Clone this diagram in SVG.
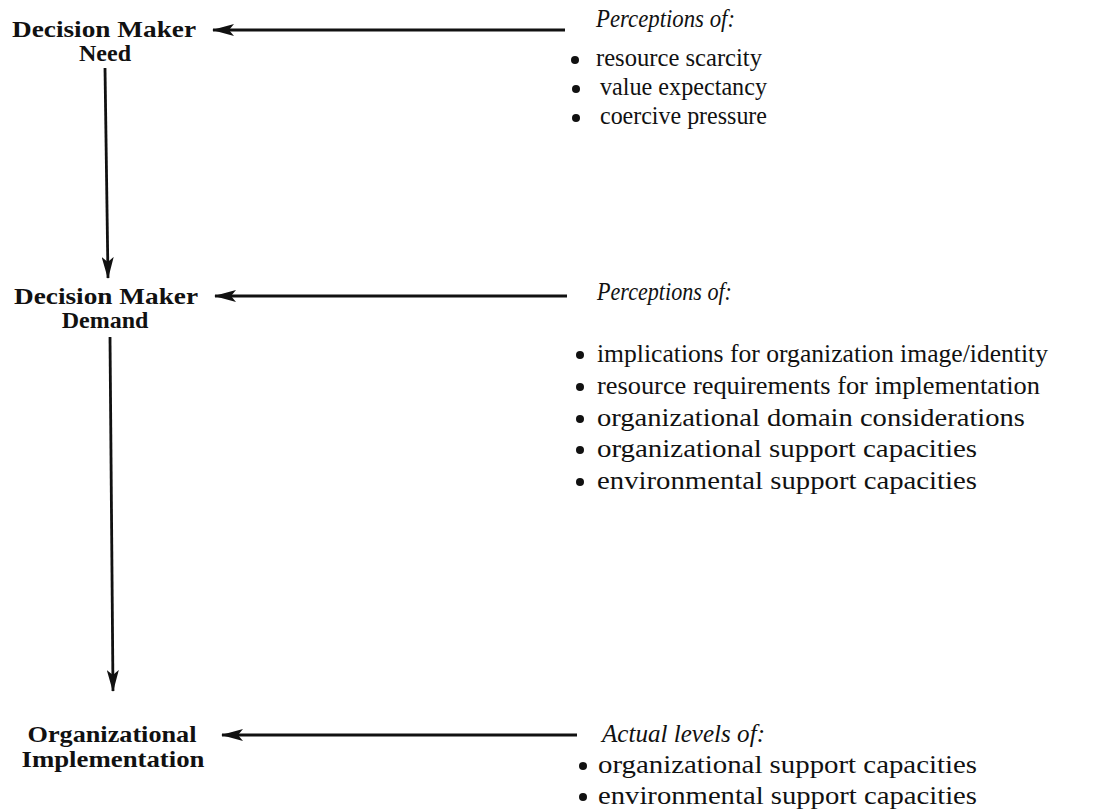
<svg xmlns="http://www.w3.org/2000/svg" width="1118" height="811" viewBox="0 0 1118 811">
  <style>
    .node { font-family: "Liberation Serif", "Times New Roman", serif; font-weight: bold; font-size: 24px; fill: #111; text-anchor: middle; }
    .head { font-family: "Liberation Serif", "Times New Roman", serif; font-style: italic; font-size: 25px; fill: #111; }
    .item { font-family: "Liberation Serif", "Times New Roman", serif; font-size: 24.5px; fill: #111; }
    .item-lg { font-family: "Liberation Serif", "Times New Roman", serif; font-size: 26px; fill: #111; }
    .edge { stroke: #111; stroke-width: 2.8; fill: none; }
    .dot { fill: #111; }
  </style>
  <defs>
    <marker id="arrow" viewBox="0 0 22 12" refX="21" refY="6" markerWidth="22" markerHeight="12" markerUnits="userSpaceOnUse" orient="auto">
      <path d="M0,0 L22,6 L0,12 L5,6 Z" fill="#111"/>
    </marker>
  </defs>

  <!-- connectors -->
  <g id="connectors">
    <line class="edge" x1="565" y1="30" x2="213" y2="30" marker-end="url(#arrow)"/>
    <line class="edge" x1="105" y1="68" x2="108" y2="278" marker-end="url(#arrow)"/>
    <line class="edge" x1="567" y1="296" x2="215" y2="296" marker-end="url(#arrow)"/>
    <line class="edge" x1="110" y1="337" x2="113" y2="691" marker-end="url(#arrow)"/>
    <line class="edge" x1="577" y1="735" x2="222" y2="735" marker-end="url(#arrow)"/>
  </g>

  <!-- nodes -->
  <g id="need">
    <text class="node" x="104" y="37" textLength="184" lengthAdjust="spacingAndGlyphs">Decision Maker</text>
    <text class="node" x="105" y="61">Need</text>
  </g>
  <g id="demand">
    <text class="node" x="106" y="304" textLength="184" lengthAdjust="spacingAndGlyphs">Decision Maker</text>
    <text class="node" x="105" y="328">Demand</text>
  </g>
  <g id="implementation">
    <text class="node" x="112" y="742" textLength="169" lengthAdjust="spacingAndGlyphs">Organizational</text>
    <text class="node" x="113" y="767" textLength="183" lengthAdjust="spacingAndGlyphs">Implementation</text>
  </g>

  <!-- factor lists -->
  <g id="need-perceptions">
    <text class="head" x="596" y="27" textLength="139" lengthAdjust="spacingAndGlyphs">Perceptions of:</text>
    <circle class="dot" cx="575" cy="60" r="4"/>
    <text class="item" x="596" y="66" textLength="166" lengthAdjust="spacingAndGlyphs">resource scarcity</text>
    <circle class="dot" cx="576" cy="89" r="4"/>
    <text class="item" x="600" y="95" textLength="167" lengthAdjust="spacingAndGlyphs">value expectancy</text>
    <circle class="dot" cx="576" cy="118" r="4"/>
    <text class="item" x="600" y="124" textLength="167" lengthAdjust="spacingAndGlyphs">coercive pressure</text>
  </g>
  <g id="demand-perceptions">
    <text class="head" x="597" y="300" textLength="135" lengthAdjust="spacingAndGlyphs">Perceptions of:</text>
    <circle class="dot" cx="580" cy="355" r="4"/>
    <text class="item-lg" x="597" y="362" textLength="451" lengthAdjust="spacingAndGlyphs">implications for organization image/identity</text>
    <circle class="dot" cx="580" cy="387" r="4"/>
    <text class="item-lg" x="597" y="394" textLength="443" lengthAdjust="spacingAndGlyphs">resource requirements for implementation</text>
    <circle class="dot" cx="580" cy="419" r="4"/>
    <text class="item-lg" x="597" y="426" textLength="428" lengthAdjust="spacingAndGlyphs">organizational domain considerations</text>
    <circle class="dot" cx="580" cy="450" r="4"/>
    <text class="item-lg" x="597" y="457" textLength="380" lengthAdjust="spacingAndGlyphs">organizational support capacities</text>
    <circle class="dot" cx="580" cy="482" r="4"/>
    <text class="item-lg" x="597" y="489" textLength="380" lengthAdjust="spacingAndGlyphs">environmental support capacities</text>
  </g>
  <g id="actual-levels">
    <text class="head" x="602" y="742" textLength="163" lengthAdjust="spacingAndGlyphs">Actual levels of:</text>
    <circle class="dot" cx="583" cy="766" r="4"/>
    <text class="item-lg" x="598" y="773" textLength="379" lengthAdjust="spacingAndGlyphs">organizational support capacities</text>
    <circle class="dot" cx="583" cy="797" r="4"/>
    <text class="item-lg" x="598" y="804" textLength="379" lengthAdjust="spacingAndGlyphs">environmental support capacities</text>
  </g>
</svg>
